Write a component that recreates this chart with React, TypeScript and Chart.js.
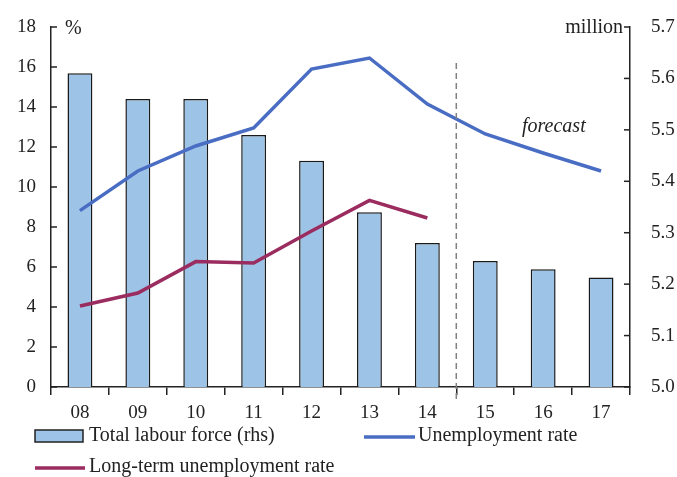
import React, { useEffect, useRef } from "react";
import { Chart, registerables } from "chart.js";

Chart.register(...registerables);

const categories = ["08", "09", "10", "11", "12", "13", "14", "15", "16", "17"];
const labourForce = [5.61, 5.56, 5.56, 5.49, 5.44, 5.34, 5.28, 5.245, 5.229, 5.213];
const unemploymentRate = [8.82, 10.8, 12.05, 12.95, 15.9, 16.45, 14.15, 12.65, 11.7, 10.8];
const longTermRate = [4.05, 4.7, 6.27, 6.2, 7.8, 9.33, 8.45, null, null, null];
const forecastAfterIndex = 6;

const FONT = "'Liberation Serif', 'Times New Roman', serif";
const TEXT = "#222";
const BAR_FILL = "#9DC3E6";
const BLUE = "#4A6DC4";
const MAROON = "#9A2C5F";

const decorPlugin = {
  id: "decor",
  afterDraw(chart: any) {
    const ctx = chart.ctx;
    const { left, right, top, bottom } = chart.chartArea;
    const yL = chart.scales.y;
    const yR = chart.scales.y1;
    const x = chart.scales.x;
    ctx.save();
    ctx.strokeStyle = "#222";
    ctx.lineWidth = 1.5;
    // inward ticks
    yL.ticks.forEach((t: any) => {
      const py = yL.getPixelForValue(t.value);
      ctx.beginPath();
      ctx.moveTo(left, py);
      ctx.lineTo(left + 6, py);
      ctx.stroke();
    });
    yR.ticks.forEach((t: any) => {
      const py = yR.getPixelForValue(t.value);
      ctx.beginPath();
      ctx.moveTo(right, py);
      ctx.lineTo(right - 6, py);
      ctx.stroke();
    });
    // forecast dashed line
    const xa = x.getPixelForValue(forecastAfterIndex);
    const xb = x.getPixelForValue(forecastAfterIndex + 1);
    const xm = (xa + xb) / 2;
    ctx.strokeStyle = "#808080";
    ctx.lineWidth = 1.5;
    ctx.setLineDash([6, 4]);
    ctx.beginPath();
    ctx.moveTo(xm, 63);
    ctx.lineTo(xm, bottom + 16);
    ctx.stroke();
    ctx.setLineDash([]);
    // axis unit labels
    ctx.fillStyle = TEXT;
    ctx.font = `20px ${FONT}`;
    ctx.textBaseline = "middle";
    ctx.textAlign = "left";
    ctx.fillText("%", left + 14, top + 2);
    ctx.textAlign = "right";
    ctx.fillText("million", right - 7, top + 1);
    ctx.font = `italic 20px ${FONT}`;
    ctx.textAlign = "left";
    ctx.fillText("forecast", 522, 127);
    // legend
    ctx.font = `20px ${FONT}`;
    ctx.textAlign = "left";
    ctx.fillStyle = BAR_FILL;
    ctx.fillRect(35, 430, 48, 12);
    ctx.strokeStyle = "#222";
    ctx.lineWidth = 1.5;
    ctx.strokeRect(35, 430, 48, 12);
    ctx.fillStyle = TEXT;
    ctx.fillText("Total labour force (rhs)", 89, 436);
    ctx.strokeStyle = BLUE;
    ctx.lineWidth = 3.5;
    ctx.beginPath();
    ctx.moveTo(364, 437);
    ctx.lineTo(415, 437);
    ctx.stroke();
    ctx.fillText("Unemployment rate", 418, 436);
    ctx.strokeStyle = MAROON;
    ctx.beginPath();
    ctx.moveTo(35, 468);
    ctx.lineTo(85, 468);
    ctx.stroke();
    ctx.fillText("Long-term unemployment rate", 89, 467);
    ctx.restore();
  },
};

export default function App() {
  const ref = useRef<HTMLCanvasElement>(null);
  useEffect(() => {
    if (!ref.current) return;
    const chart = new Chart(ref.current, {
      type: "bar",
      data: {
        labels: categories,
        datasets: [
          {
            type: "line",
            label: "Unemployment rate",
            data: unemploymentRate,
            yAxisID: "y",
            borderColor: BLUE,
            borderWidth: 3.5,
            pointRadius: 0,
            tension: 0,
            order: 1,
          },
          {
            type: "line",
            label: "Long-term unemployment rate",
            data: longTermRate as any,
            yAxisID: "y",
            borderColor: MAROON,
            borderWidth: 3.5,
            pointRadius: 0,
            tension: 0,
            order: 2,
          },
          {
            type: "bar",
            label: "Total labour force (rhs)",
            data: labourForce,
            yAxisID: "y1",
            backgroundColor: BAR_FILL,
            borderColor: "#1a1a1a",
            borderWidth: 1.5,
            barPercentage: 0.43,
            categoryPercentage: 1,
            order: 3,
          },
        ],
      },
      options: {
        animation: false,
        responsive: false,
        maintainAspectRatio: false,
        layout: { padding: { top: 27, left: 0, right: 0, bottom: 0 } },
        plugins: { legend: { display: false }, tooltip: { enabled: false } },
        scales: {
          x: {
            offset: true,
            grid: {
              offset: true,
              drawOnChartArea: false,
              drawTicks: true,
              tickLength: 8,
              color: "#222",
              lineWidth: 1.5,
            },
            border: { color: "#222", width: 1.5 },
            ticks: { color: TEXT, font: { family: FONT, size: 19 }, padding: 7 },
            afterFit: (s: any) => {
              s.height = 90;
            },
          },
          y: {
            position: "left",
            min: 0,
            max: 18,
            ticks: { stepSize: 2, color: TEXT, font: { family: FONT, size: 19 }, padding: 7 },
            grid: { display: false },
            border: { color: "#222", width: 1.5 },
            afterFit: (s: any) => {
              s.width = 51;
            },
          },
          y1: {
            position: "right",
            min: 5.0,
            max: 5.7,
            ticks: {
              stepSize: 0.1,
              color: TEXT,
              font: { family: FONT, size: 19 },
              padding: 13,
              callback: (v: any) => Number(v).toFixed(1),
            },
            grid: { display: false },
            border: { color: "#222", width: 1.5 },
            afterFit: (s: any) => {
              s.width = 47;
            },
          },
        },
      },
      plugins: [decorPlugin],
    });
    return () => chart.destroy();
  }, []);
  return (
    <div style={{ position: "absolute", left: 0, top: 0, width: 677, height: 477, background: "#fff" }}>
      <canvas ref={ref} width={677} height={477} style={{ width: 677, height: 477 }} />
    </div>
  );
}
